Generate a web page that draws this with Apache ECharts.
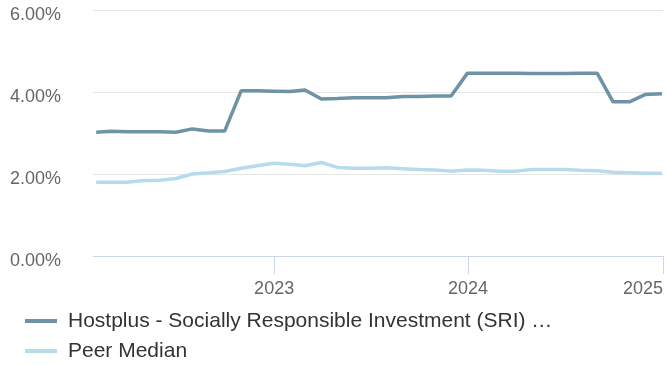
<!DOCTYPE html>
<html>
<head>
<meta charset="utf-8">
<script src="https://cdn.jsdelivr.net/npm/echarts@6/dist/echarts.min.js"></script>
<style>
  html, body { margin: 0; padding: 0; background: #fff; }
  #chart { width: 666px; height: 365px; }
</style>
</head>
<body>
<div id="chart"></div>
<script>
// --- 数据 ---
const dates = [
  '2022-01-31', '2022-02-28', '2022-03-31', '2022-04-30', '2022-05-31', '2022-06-30',
  '2022-07-31', '2022-08-31', '2022-09-30', '2022-10-31', '2022-11-30', '2022-12-31',
  '2023-01-31', '2023-02-28', '2023-03-31', '2023-04-30', '2023-05-31', '2023-06-30',
  '2023-07-31', '2023-08-31', '2023-09-30', '2023-10-31', '2023-11-30', '2023-12-31',
  '2024-01-31', '2024-02-29', '2024-03-31', '2024-04-30', '2024-05-31', '2024-06-30',
  '2024-07-31', '2024-08-31', '2024-09-30', '2024-10-31', '2024-11-30', '2024-12-31'
];
const fundValues = [
  3.02, 3.04, 3.03, 3.03, 3.03, 3.02, 3.10, 3.05, 3.05, 4.03, 4.03, 4.02,
  4.01, 4.05, 3.83, 3.84, 3.86, 3.86, 3.86, 3.89, 3.89, 3.90, 3.90, 4.46,
  4.46, 4.46, 4.46, 4.45, 4.45, 4.45, 4.46, 4.46, 3.76, 3.76, 3.94, 3.96
];
const peerValues = [
  1.80, 1.80, 1.80, 1.84, 1.85, 1.89, 2.00, 2.03, 2.06, 2.14, 2.20, 2.26,
  2.24, 2.20, 2.28, 2.16, 2.14, 2.14, 2.15, 2.13, 2.11, 2.10, 2.07, 2.10,
  2.09, 2.07, 2.07, 2.11, 2.11, 2.11, 2.09, 2.08, 2.04, 2.03, 2.02, 2.02
];
const seriesNames = ['Hostplus - Socially Responsible Investment (SRI) \u2026', 'Peer Median'];
const yTicks = [0, 2, 4, 6];
const xMin = '2022-01-25';
const xMax = '2025-01-02';

// --- 颜色 ---
const C = { fund: '#6e93a6', peer: '#b7dbeb', grid: '#e6e6e6', axis: '#ccd6eb', label: '#666666', text: '#333333' };
const FONT = '"Liberation Sans", Arial, sans-serif';

const legendBase = {
  left: 25, padding: 0, itemWidth: 32, itemHeight: 4, icon: 'rect',
  textStyle: { color: C.text, fontSize: 21, fontFamily: FONT, lineHeight: 24, padding: [2, 0, 0, 6] },
};

const chart = echarts.init(document.getElementById('chart'), null, { renderer: 'canvas' });

chart.setOption({
  animation: false,
  textStyle: { fontFamily: FONT },
  grid: { left: 93, right: 2, top: 10, bottom: 109, containLabel: false },
  legend: [
    { ...legendBase, top: 308, data: [seriesNames[0]] },
    { ...legendBase, top: 338, data: [seriesNames[1]] },
  ],
  xAxis: {
    type: 'time',
    min: xMin,
    max: xMax,
    axisLine: { lineStyle: { color: C.axis, width: 1 } },
    axisTick: { show: true, length: 18, lineStyle: { color: C.axis } },
    splitLine: { show: false },
    axisLabel: {
      color: C.label, fontSize: 18, fontFamily: FONT, margin: 24,
      showMinLabel: false, showMaxLabel: true, alignMaxLabel: 'right',
      formatter: v => String(new Date(v).getFullYear()),
    },
    minInterval: 300 * 24 * 3600 * 1000,
  },
  yAxis: {
    type: 'value',
    min: yTicks[0],
    max: yTicks[yTicks.length - 1],
    interval: 2,
    axisLine: { show: false },
    axisTick: { show: false },
    splitLine: { lineStyle: { color: C.grid, width: 1 } },
    axisLabel: {
      color: C.label, fontSize: 18, fontFamily: FONT, align: 'left', margin: 83,
      verticalAlign: 'top', lineHeight: 11,
      formatter: v => v.toFixed(2) + '%',
    },
  },
  series: [
    {
      name: seriesNames[0], type: 'line', symbol: 'none', z: 3,
      data: dates.map((d, i) => [d, fundValues[i]]),
      lineStyle: { color: C.fund, width: 3.5 }, itemStyle: { color: C.fund },
    },
    {
      name: seriesNames[1], type: 'line', symbol: 'none', z: 2,
      data: dates.map((d, i) => [d, peerValues[i]]),
      lineStyle: { color: C.peer, width: 3.5 }, itemStyle: { color: C.peer },
    },
  ],
});
</script>
</body>
</html>
